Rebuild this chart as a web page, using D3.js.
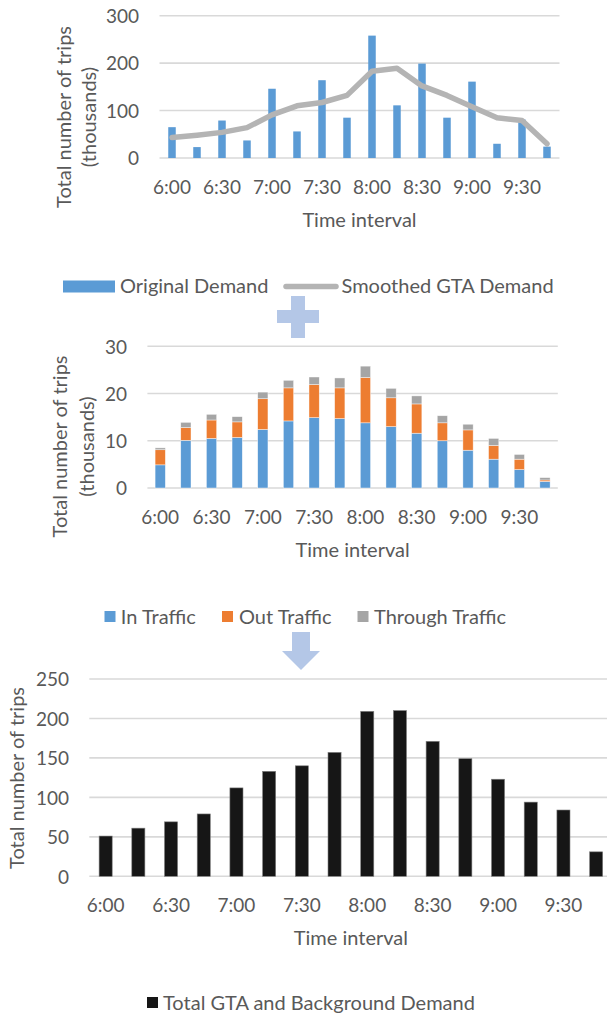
<!DOCTYPE html>
<html>
<head>
<meta charset="utf-8">
<script src="https://cdn.jsdelivr.net/npm/d3@7"></script>
<style>
  html, body { margin: 0; padding: 0; background: #fff; }
  svg { display: block; }
  text { font-family: Lato, "Open Sans", sans-serif; fill: #595959; }
</style>
</head>
<body>
<svg id="chart" width="607" height="1015"></svg>
<script>
// 15-minute intervals, 6:00 to 9:45
const timeSlots = ["6:00","6:15","6:30","6:45","7:00","7:15","7:30","7:45",
                   "8:00","8:15","8:30","8:45","9:00","9:15","9:30","9:45"];
const timeTicks = ["6:00","6:30","7:00","7:30","8:00","8:30","9:00","9:30"];

// Panel 1: GTA demand (thousands of trips)
const originalDemand = [65, 23, 79, 37, 146, 56, 164, 85, 258, 111, 199, 85, 161, 30, 81, 24];
const smoothedDemand = [43, 48, 54, 64, 91, 110, 117, 132, 183, 189, 152, 132, 108, 85, 79, 30];
const demandTicks = [0, 100, 200, 300];

// Panel 2: background traffic (thousands of trips)
const inTraffic      = [4.9, 10.1, 10.5, 10.7, 12.4, 14.2, 14.9, 14.7, 13.8, 13.0, 11.6, 10.0, 8.0, 6.1, 3.9, 1.4];
const outTraffic     = [3.2, 2.7, 3.9, 3.3, 6.5, 7.0, 7.0, 6.5, 9.6, 6.1, 6.2, 3.8, 4.3, 2.9, 2.2, 0.3];
const throughTraffic = [0.4, 1.1, 1.2, 1.1, 1.4, 1.6, 1.6, 2.1, 2.4, 2.0, 1.7, 1.5, 1.2, 1.5, 1.0, 0.5];
const trafficTicks = [0, 10, 20, 30];

// Panel 3: combined demand
const totalDemand = [51, 61, 69, 79, 112, 133, 140, 157, 209, 210, 171, 149, 123, 94, 84, 31];
const totalTicks = [0, 50, 100, 150, 200, 250];

const C = {
  blue: "#5b9bd5", orange: "#ed7d31", gray: "#a5a5a5", line: "#b4b4b4",
  black: "#161616", grid: "#d9d9d9", text: "#626262", pale: "#b4c7e7"
};
const FS = 20;       // titles and legend
const FS_TICK = 19;  // tick labels
const FONT = "Lato, 'Open Sans', sans-serif";

const svg = d3.select("#chart");

function panel(cfg) {
  const g = svg.append("g");
  const x = d3.scaleBand().domain(timeSlots).range([cfg.x0, cfg.x1])
    .paddingInner(cfg.pad).paddingOuter(cfg.pad / 2);
  const y = d3.scaleLinear().domain([0, cfg.max]).range([cfg.yBase, cfg.yTop]);

  // gridlines
  g.append("g").selectAll("line").data(cfg.ticks).join("line")
    .attr("x1", cfg.x0).attr("x2", cfg.x1)
    .attr("y1", d => y(d)).attr("y2", d => y(d))
    .attr("stroke", C.grid).attr("stroke-width", 1.6);

  // y axis labels
  const ya = g.append("g").attr("transform", `translate(${cfg.yLabelX},0)`)
    .call(d3.axisLeft(y).tickValues(cfg.ticks).tickSize(0).tickPadding(0));
  ya.select(".domain").remove();
  ya.selectAll("text").attr("font-size", FS_TICK).attr("fill", C.text)
    .attr("font-family", FONT).attr("dy", "0.36em");

  // x axis labels
  const xa = g.append("g").attr("transform", `translate(0,${cfg.xLabelY})`)
    .call(d3.axisBottom(x).tickValues(timeTicks).tickSize(0).tickPadding(0));
  xa.select(".domain").remove();
  xa.selectAll("text").attr("font-size", FS_TICK).attr("fill", C.text)
    .attr("font-family", FONT).attr("dy", "0.36em");

  // axis titles
  g.append("text").attr("x", (cfg.x0 + cfg.x1) / 2).attr("y", cfg.xTitleY)
    .attr("text-anchor", "middle").attr("dy", "0.36em").attr("font-size", FS)
    .attr("fill", C.text).text("Time interval");
  cfg.yTitle.forEach((t, i) => {
    g.append("text")
      .attr("transform", `translate(${cfg.yTitleX[i]},${cfg.yTitleCY}) rotate(-90)`)
      .attr("text-anchor", "middle").attr("dy", "0.36em").attr("font-size", FS)
      .attr("fill", C.text).text(t);
  });
  return { g, x, y };
}

// ---------- Panel 1 ----------
const p1 = panel({
  x0: 159.5, x1: 559.5, pad: 0.7, max: 300, yBase: 158, yTop: 15.7,
  ticks: demandTicks, yLabelX: 139, xLabelY: 186.7, xTitleY: 220,
  yTitle: ["Total number of trips", "(thousands)"], yTitleX: [63.5, 88.5], yTitleCY: 117
});
p1.g.append("g").selectAll("rect").data(originalDemand).join("rect")
  .attr("x", (d, i) => p1.x(timeSlots[i]))
  .attr("width", p1.x.bandwidth())
  .attr("y", d => p1.y(d))
  .attr("height", d => p1.y(0) - p1.y(d))
  .attr("fill", C.blue);
p1.g.append("path")
  .datum(smoothedDemand)
  .attr("d", d3.line()
    .x((d, i) => p1.x(timeSlots[i]) + p1.x.bandwidth() / 2)
    .y(d => p1.y(d)))
  .attr("fill", "none").attr("stroke", C.line).attr("stroke-width", 5.5)
  .attr("stroke-linejoin", "round").attr("stroke-linecap", "round");

// legend 1
const l1 = svg.append("g");
l1.append("rect").attr("x", 63).attr("y", 280.5).attr("width", 52).attr("height", 12).attr("fill", C.blue);
l1.append("text").attr("x", 120).attr("y", 286).attr("dy", "0.36em").attr("font-size", FS)
  .attr("fill", C.text).text("Original Demand");
l1.append("line").attr("x1", 286).attr("x2", 336).attr("y1", 286.5).attr("y2", 286.5)
  .attr("stroke", C.line).attr("stroke-width", 5.5).attr("stroke-linecap", "round");
l1.append("text").attr("x", 341.5).attr("y", 286).attr("dy", "0.36em").attr("font-size", FS)
  .attr("fill", C.text).text("Smoothed GTA Demand");

// plus sign
svg.append("path")
  .attr("d", "M291,296 H305 V310 H319 V323 H305 V338 H291 V323 H277 V310 H291 Z")
  .attr("fill", C.pale);

// ---------- Panel 2 ----------
const p2 = panel({
  x0: 147.4, x1: 557.8, pad: 0.6, max: 30, yBase: 488, yTop: 346.3,
  ticks: trafficTicks, yLabelX: 127, xLabelY: 516.7, xTitleY: 550,
  yTitle: ["Total number of trips", "(thousands)"], yTitleX: [60, 86.5], yTitleCY: 446.5
});
const stackRows = timeSlots.map((t, i) => ({
  t, in: inTraffic[i], out: outTraffic[i], through: throughTraffic[i]
}));
const stacked = d3.stack().keys(["in", "out", "through"])(stackRows);
const stackColors = { in: C.blue, out: C.orange, through: C.gray };
p2.g.append("g").selectAll("g").data(stacked).join("g")
  .attr("fill", s => stackColors[s.key])
  .selectAll("rect").data(s => s).join("rect")
  .attr("x", d => p2.x(d.data.t))
  .attr("width", p2.x.bandwidth())
  .attr("y", d => p2.y(d[1]))
  .attr("height", d => p2.y(d[0]) - p2.y(d[1]))
  .attr("stroke", "#ffffff").attr("stroke-width", 0.6).attr("stroke-opacity", 0.7);

// legend 2
const l2 = svg.append("g");
[["In Traffic", C.blue, 104.5, 120.8], ["Out Traffic", C.orange, 222, 239], ["Through Traffic", C.gray, 357.5, 374]]
  .forEach(([label, col, sx, tx]) => {
    l2.append("rect").attr("x", sx).attr("y", 611).attr("width", 11).attr("height", 11).attr("fill", col);
    l2.append("text").attr("x", tx).attr("y", 616.5).attr("dy", "0.36em").attr("font-size", FS)
      .attr("fill", C.text).text(label);
  });

// down arrow
svg.append("path")
  .attr("d", "M292,632 H310 V651 H320 L301,670 L282,651 H292 Z")
  .attr("fill", C.pale);

// ---------- Panel 3 ----------
const p3 = panel({
  x0: 89.3, x1: 612.5, pad: 0.6, max: 250, yBase: 876.3, yTop: 679,
  ticks: totalTicks, yLabelX: 69, xLabelY: 905, xTitleY: 938,
  yTitle: ["Total number of trips"], yTitleX: [17], yTitleCY: 778
});
p3.g.append("g").selectAll("rect").data(totalDemand).join("rect")
  .attr("x", (d, i) => p3.x(timeSlots[i]))
  .attr("width", p3.x.bandwidth())
  .attr("y", d => p3.y(d))
  .attr("height", d => p3.y(0) - p3.y(d))
  .attr("fill", C.black).attr("stroke", "#7f7f7f").attr("stroke-width", 0.6);

// legend 3
const l3 = svg.append("g");
l3.append("rect").attr("x", 147).attr("y", 997).attr("width", 11).attr("height", 11).attr("fill", C.black);
l3.append("text").attr("x", 163).attr("y", 1002.5).attr("dy", "0.36em").attr("font-size", FS)
  .attr("fill", C.text).text("Total GTA and Background Demand");
</script>
</body>
</html>
